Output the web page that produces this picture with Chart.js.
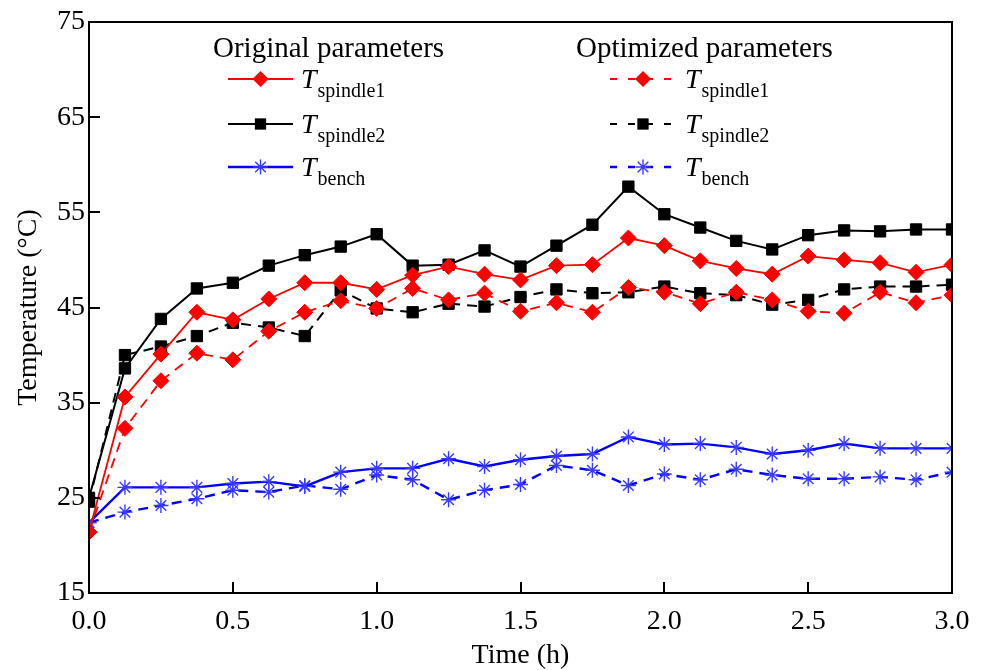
<!DOCTYPE html>
<html>
<head>
<meta charset="utf-8">
<title>Spindle temperature</title>
<script src="https://cdn.jsdelivr.net/npm/chart.js@4.4.0/dist/chart.umd.min.js"></script>
<style>
  html, body { margin: 0; padding: 0; background: #fff; }
  #wrap { width: 984px; height: 670px; }
</style>
</head>
<body>
<div id="wrap"><canvas id="chart" width="984" height="670"></canvas></div>
<script>
// -----------------------------
// DATA
// -----------------------------
const timeH = [0, 0.125, 0.25, 0.375, 0.5, 0.625, 0.75, 0.875, 1.0, 1.125, 1.25, 1.375, 1.5,
  1.625, 1.75, 1.875, 2.0, 2.125, 2.25, 2.375, 2.5, 2.625, 2.75, 2.875, 3.0];

const origSpindle1 = [21.4, 35.6, 40.1, 44.5, 43.7, 45.9, 47.6, 47.6, 46.9, 48.4, 49.3, 48.5, 47.9,
  49.4, 49.5, 52.3, 51.5, 49.9, 49.1, 48.5, 50.4, 50.0, 49.7, 48.7, 49.5];
const origSpindle2 = [25.0, 38.6, 43.8, 47.0, 47.6, 49.4, 50.5, 51.4, 52.7, 49.4, 49.5, 51.0, 49.3,
  51.5, 53.7, 57.7, 54.8, 53.4, 52.0, 51.1, 52.6, 53.1, 53.0, 53.2, 53.2];
const origBench = [22.4, 26.1, 26.1, 26.1, 26.5, 26.7, 26.2, 27.7, 28.1, 28.1, 29.1, 28.3, 29.0,
  29.4, 29.6, 31.4, 30.6, 30.7, 30.3, 29.6, 30.0, 30.7, 30.2, 30.2, 30.2];

const optSpindle1 = [21.4, 32.3, 37.3, 40.2, 39.5, 42.5, 44.5, 45.7, 44.9, 47.0, 45.8, 46.5, 44.6,
  45.5, 44.5, 47.1, 46.6, 45.4, 46.6, 45.8, 44.6, 44.4, 46.6, 45.5, 46.3];
const optSpindle2 = [24.6, 40.0, 40.9, 42.0, 43.4, 42.9, 42.0, 46.8, 44.9, 44.5, 45.4, 45.1, 46.1,
  46.9, 46.5, 46.6, 47.2, 46.5, 46.3, 45.3, 45.8, 46.9, 47.2, 47.2, 47.4];
const optBench = [22.4, 23.5, 24.2, 24.9, 25.8, 25.6, 26.3, 25.9, 27.4, 26.9, 24.8, 25.8, 26.4,
  28.4, 27.9, 26.3, 27.5, 26.9, 28.0, 27.4, 27.0, 27.0, 27.2, 26.9, 27.7];

const groupTitles = ["Original parameters", "Optimized parameters"];
const seriesSubs = ["spindle1", "spindle2", "bench"];

// -----------------------------
// HELPERS
// -----------------------------
const FONT = "'Liberation Serif', 'Times New Roman', serif";
const toPoints = arr => timeH.map((t, i) => ({ x: t, y: arr[i] }));

function makeSet(values, sub, group, color, style, markerColor, width) {
  return {
    label: "T " + sub,
    sub: sub,
    group: group,
    data: toPoints(values),
    borderColor: color,
    backgroundColor: markerColor,
    pointBorderColor: markerColor,
    pointBackgroundColor: markerColor,
    borderWidth: width,
    borderDash: group === 1 ? [10, 7] : [],
    pointStyle: style,
    pointRadius: style === "star" ? 7.5 : 8,
    pointBorderWidth: style === "star" ? 1.4 : 1,
    tension: 0
  };
}

// marker for the legend (same shapes Chart.js uses)
function drawMarker(ctx, style, x, y, r) {
  ctx.beginPath();
  if (style === "rectRot") {
    ctx.moveTo(x - r, y); ctx.lineTo(x, y - r); ctx.lineTo(x + r, y); ctx.lineTo(x, y + r);
    ctx.closePath(); ctx.fill();
  } else if (style === "rect") {
    const s = Math.SQRT1_2 * r;
    ctx.rect(x - s, y - s, 2 * s, 2 * s); ctx.fill();
  } else {
    const d = Math.SQRT1_2 * r;
    ctx.moveTo(x - r, y); ctx.lineTo(x + r, y);
    ctx.moveTo(x, y - r); ctx.lineTo(x, y + r);
    ctx.moveTo(x - d, y - d); ctx.lineTo(x + d, y + d);
    ctx.moveTo(x - d, y + d); ctx.lineTo(x + d, y - d);
    ctx.stroke();
  }
}

// -----------------------------
// PLUGINS: frame with inward ticks, two-column legend
// -----------------------------
const framePlugin = {
  id: "frame",
  afterDraw(chart) {
    const { ctx, chartArea: a, scales: { x, y } } = chart;
    ctx.save();
    ctx.strokeStyle = "#000";
    ctx.lineWidth = 2;
    ctx.strokeRect(a.left, a.top, a.right - a.left, a.bottom - a.top);
    ctx.beginPath();
    x.ticks.forEach(t => {
      const px = Math.round(x.getPixelForValue(t.value));
      ctx.moveTo(px, a.bottom); ctx.lineTo(px, a.bottom - 11);
    });
    y.ticks.forEach(t => {
      const py = Math.round(y.getPixelForValue(t.value));
      ctx.moveTo(a.left, py); ctx.lineTo(a.left + 11, py);
    });
    ctx.stroke();
    ctx.restore();
  }
};

const legendPlugin = {
  id: "twoColLegend",
  afterDraw(chart) {
    const ctx = chart.ctx;
    const cols = [
      { title: 213, lineL: 228, lineR: 293, text: 301 },
      { title: 576, lineL: 610, lineR: 676, text: 685 }
    ];
    const rows = [79, 124, 167];
    ctx.save();
    ctx.fillStyle = "#000";
    ctx.textBaseline = "alphabetic";
    ctx.font = "29px " + FONT;
    groupTitles.forEach((t, c) => ctx.fillText(t, cols[c].title, 57));

    chart.data.datasets.forEach(ds => {
      const c = cols[ds.group];
      const row = seriesSubs.indexOf(ds.sub);
      const y = rows[row];
      const mid = (c.lineL + c.lineR) / 2;
      // line sample
      ctx.strokeStyle = ds.borderColor;
      ctx.lineWidth = ds.borderWidth;
      ctx.setLineDash(ds.group === 1 ? [7, 11] : []);
      ctx.lineDashOffset = 0;
      ctx.beginPath();
      ctx.moveTo(c.lineL, y); ctx.lineTo(c.lineR, y);
      ctx.stroke();
      ctx.setLineDash([]);
      // marker
      ctx.fillStyle = ds.pointBackgroundColor;
      ctx.strokeStyle = ds.pointBorderColor;
      ctx.lineWidth = ds.pointBorderWidth;
      drawMarker(ctx, ds.pointStyle, mid, y, ds.pointRadius);
      // label T_sub
      ctx.fillStyle = "#000";
      ctx.font = "italic 28px " + FONT;
      ctx.fillText("T", c.text, y + 9);
      const tw = ctx.measureText("T").width;
      ctx.font = "20px " + FONT;
      ctx.fillText(ds.sub, c.text + tw + 1, y + 18);
    });
    ctx.restore();
  }
};

// -----------------------------
// CHART
// -----------------------------
const tickFont = { family: FONT, size: 28 };

new Chart(document.getElementById("chart").getContext("2d"), {
  type: "line",
  data: {
    datasets: [
      makeSet(origSpindle1, "spindle1", 0, "#ff0000", "rectRot", "#ff0000", 1.8),
      makeSet(origSpindle2, "spindle2", 0, "#000000", "rect", "#000000", 2),
      makeSet(origBench, "bench", 0, "#0000ff", "star", "#3a3aff", 2.4),
      makeSet(optSpindle1, "spindle1", 1, "#ff0000", "rectRot", "#ff0000", 1.8),
      makeSet(optSpindle2, "spindle2", 1, "#000000", "rect", "#000000", 2),
      makeSet(optBench, "bench", 1, "#0000ff", "star", "#3a3aff", 2.4)
    ]
  },
  options: {
    responsive: false,
    devicePixelRatio: 1,
    animation: false,
    layout: { padding: { top: 22, right: 32, left: 0, bottom: 0 } },
    plugins: { legend: { display: false }, tooltip: { enabled: false } },
    scales: {
      x: {
        type: "linear",
        min: 0,
        max: 3,
        grid: { display: false, drawTicks: false },
        border: { display: false },
        ticks: { stepSize: 0.5, color: "#000", font: tickFont, padding: 12, maxRotation: 0,
          callback: v => v.toFixed(1) },
        title: { display: true, text: "Time (h)", color: "#000",
          font: { family: FONT, size: 28, lineHeight: 1.0 },
          padding: { top: 0, bottom: 0 } },
        afterFit: s => { s.height = 77; }
      },
      y: {
        min: 15,
        max: 75,
        grid: { display: false, drawTicks: false },
        border: { display: false },
        ticks: { stepSize: 10, color: "#000", font: tickFont, padding: 4 },
        title: { display: true, text: "Temperature (\u00B0C)", color: "#000",
          font: { family: FONT, size: 28, lineHeight: 1.1 },
          padding: { top: 13, bottom: 0 } },
        afterFit: s => { s.width = 89; }
      }
    }
  },
  plugins: [framePlugin, legendPlugin]
});
</script>
</body>
</html>
